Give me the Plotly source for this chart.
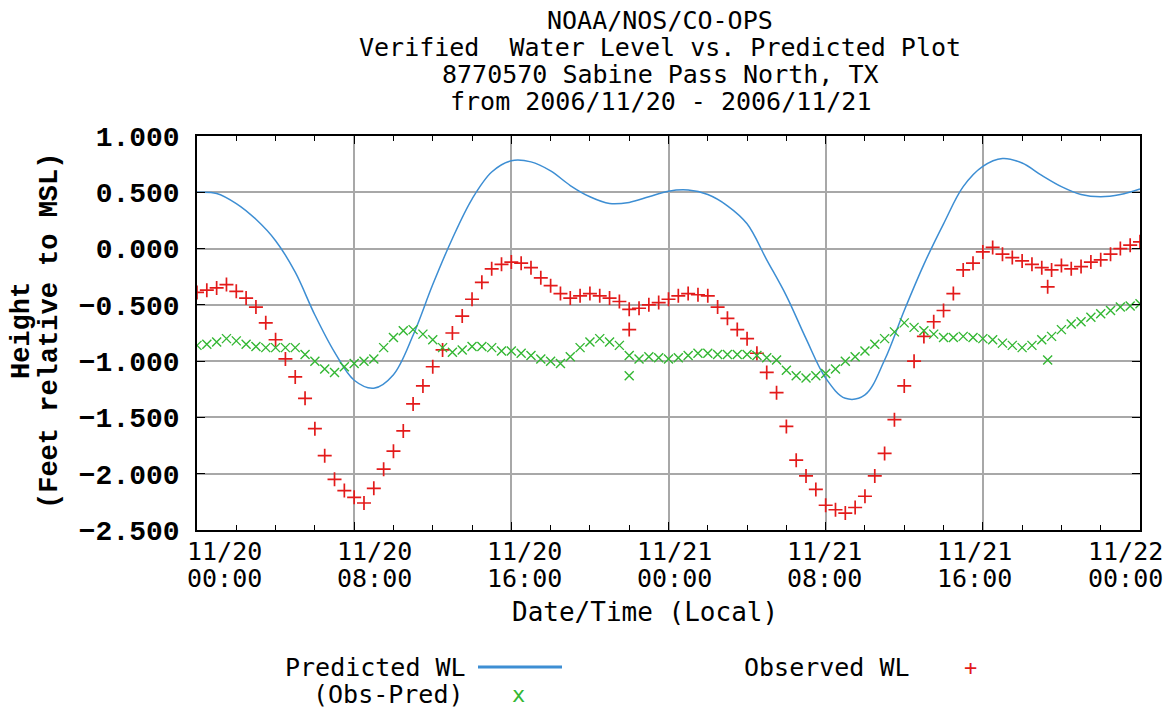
import numpy as np
import pandas as pd
import plotly.graph_objects as go

# ---------------- data ----------------
start = pd.Timestamp("2006-11-20 00:00")
end = pd.Timestamp("2006-11-22 00:00")

# Predicted water level, hourly (ft rel. MSL)
pred_vals = [0.50, 0.49, 0.40, 0.26, 0.07, -0.21, -0.59, -0.92, -1.17, -1.24,
             -1.12, -0.77, -0.32, 0.09, 0.44, 0.68, 0.78, 0.77, 0.69, 0.56,
             0.46, 0.40, 0.41, 0.46, 0.51, 0.52, 0.48, 0.38, 0.22, -0.10,
             -0.42, -0.80, -1.15, -1.33, -1.30, -0.99, -0.55, -0.14, 0.22, 0.55,
             0.73, 0.80, 0.76, 0.65, 0.55, 0.48, 0.46, 0.48, 0.53]
pred_times = pd.date_range(start, periods=len(pred_vals), freq="60min")

# Observed water level, every 30 minutes
obs_vals = [-0.39, -0.37, -0.35, -0.32, -0.38, -0.44, -0.52, -0.66, -0.81, -0.98,
            -1.14, -1.33, -1.60, -1.84, -2.05, -2.15, -2.21, -2.26, -2.13, -1.96,
            -1.80, -1.62, -1.38, -1.22, -1.05, -0.90, -0.75, -0.60, -0.45, -0.30,
            -0.18, -0.14, -0.12, -0.13, -0.17, -0.26, -0.33, -0.40, -0.44, -0.42,
            -0.40, -0.42, -0.44, -0.47, -0.54, -0.53, -0.50, -0.48, -0.45, -0.42,
            -0.40, -0.41, -0.42, -0.52, -0.62, -0.72, -0.80, -0.93, -1.10, -1.28,
            -1.58, -1.88, -2.02, -2.14, -2.28, -2.32, -2.35, -2.30, -2.20, -2.02,
            -1.82, -1.52, -1.22, -1.00, -0.78, -0.65, -0.55, -0.40, -0.19, -0.13,
            -0.03, 0.01, -0.05, -0.08, -0.11, -0.14, -0.17, -0.19, -0.15, -0.18,
            -0.16, -0.12, -0.10, -0.05, 0.00, 0.03, 0.06]
obs_times = pd.date_range(start, periods=len(obs_vals), freq="30min")

# Observed minus predicted, every 30 minutes
diff_vals = [-0.86, -0.85, -0.83, -0.80, -0.82, -0.85, -0.87, -0.88, -0.88, -0.88,
             -0.88, -0.94, -1.00, -1.07, -1.10, -1.05, -1.02, -1.00, -0.98, -0.88,
             -0.79, -0.73, -0.72, -0.76, -0.81, -0.88, -0.92, -0.90, -0.87, -0.87,
             -0.88, -0.91, -0.91, -0.93, -0.95, -0.98, -1.00, -1.02, -0.96, -0.88,
             -0.83, -0.80, -0.83, -0.86, -0.95, -0.98, -0.96, -0.97, -0.98, -0.97,
             -0.95, -0.93, -0.93, -0.94, -0.94, -0.94, -0.94, -0.95, -0.97, -0.99,
             -1.08, -1.13, -1.15, -1.13, -1.11, -1.07, -1.00, -0.96, -0.91, -0.85,
             -0.80, -0.74, -0.66, -0.70, -0.73, -0.76, -0.79, -0.79, -0.78, -0.79,
             -0.80, -0.81, -0.84, -0.86, -0.88, -0.86, -0.81, -0.78, -0.72, -0.67,
             -0.65, -0.61, -0.58, -0.55, -0.52, -0.51, -0.49]
diff_times = pd.date_range(start, periods=len(diff_vals), freq="30min")

# isolated spikes
spike_times = [pd.Timestamp("2006-11-20 22:00"), pd.Timestamp("2006-11-21 19:18")]
spike_obs = [-0.72, -0.34]
spike_diff = [-1.13, -0.99]

tick_times = pd.date_range(start, end, freq="8h")
tick_dates = [t.strftime("%m/%d") for t in tick_times]
tick_hours = [t.strftime("%H:%M") for t in tick_times]

title_lines = ["NOAA/NOS/CO-OPS",
               "Verified\u00a0 Water Level vs. Predicted Plot",
               "8770570 Sabine Pass North, TX",
               "from 2006/11/20 - 2006/11/21"]

# ---------------- styling ----------------
BLUE = "#3d8ed3"
RED = "#e31a1a"
GREEN = "#33b733"
GRID = "#a8a8a8"
PIX = "DejaVu Sans Mono"
MONO = "Liberation Mono"

W, H = 1169, 708
L, R, T, B = 197, 29, 136, 178
PW, PH = W - L - R, H - T - B


def px(x):
    return (x - L) / PW


def py(y):
    return (H - B - y) / PH


fig = go.Figure()
fig.add_trace(go.Scatter(x=pred_times, y=pred_vals, mode="lines",
                         line=dict(color=BLUE, width=1.5, shape="spline"),
                         name="Predicted WL"))
fig.add_trace(go.Scatter(x=list(obs_times) + spike_times,
                         y=obs_vals + spike_obs, mode="markers",
                         marker=dict(symbol="cross-thin", size=10,
                                     line=dict(color=RED, width=1.7)),
                         name="Observed WL"))
fig.add_trace(go.Scatter(x=list(diff_times) + spike_times,
                         y=diff_vals + spike_diff, mode="markers",
                         marker=dict(symbol="x-thin", size=9,
                                     line=dict(color=GREEN, width=1.4)),
                         name="(Obs-Pred)"))

ann = []
# title
for i, line in enumerate(title_lines):
    ann.append(dict(text=line, xref="paper", yref="paper", x=px(660), y=py(20 + i * 27.3),
                    xanchor="center", yanchor="middle", showarrow=False,
                    font=dict(family=PIX, size=25, color="black")))
# x tick labels (two lines)
for i, t in enumerate(tick_times):
    shift = 27 - 7 * i
    ann.append(dict(text=tick_dates[i], x=t, xref="x", yref="paper", y=py(551),
                    xshift=shift, xanchor="center", yanchor="middle", showarrow=False,
                    font=dict(family=PIX, size=25, color="black")))
    ann.append(dict(text=tick_hours[i], x=t, xref="x", yref="paper", y=py(578),
                    xshift=shift, xanchor="center", yanchor="middle", showarrow=False,
                    font=dict(family=PIX, size=25, color="black")))
# x axis title
ann.append(dict(text="Date/Time (Local)", xref="paper", yref="paper", x=px(645), y=py(612),
                xanchor="center", yanchor="middle", showarrow=False,
                font=dict(family=PIX, size=26, color="black")))
# y axis title
ann.append(dict(text="<b>Height</b>", xref="paper", yref="paper", x=px(22), y=py(331),
                xanchor="center", yanchor="middle", textangle=-90, showarrow=False,
                font=dict(family=MONO, size=27, color="black")))
ann.append(dict(text="<b>(Feet relative to MSL)</b>", xref="paper", yref="paper", x=px(50), y=py(331),
                xanchor="center", yanchor="middle", textangle=-90, showarrow=False,
                font=dict(family=MONO, size=27, color="black")))
# legend
ann.append(dict(text="Predicted WL", xref="paper", yref="paper", x=px(468), y=py(667),
                xanchor="right", yanchor="middle", showarrow=False,
                font=dict(family=PIX, size=25, color="black")))
ann.append(dict(text="(Obs-Pred)", xref="paper", yref="paper", x=px(466), y=py(694),
                xanchor="right", yanchor="middle", showarrow=False,
                font=dict(family=PIX, size=25, color="black")))
ann.append(dict(text="Observed WL", xref="paper", yref="paper", x=px(912), y=py(667),
                xanchor="right", yanchor="middle", showarrow=False,
                font=dict(family=PIX, size=25, color="black")))
ann.append(dict(text="+", xref="paper", yref="paper", x=px(970), y=py(667),
                xanchor="center", yanchor="middle", showarrow=False,
                font=dict(family=PIX, size=22, color=RED)))
ann.append(dict(text="x", xref="paper", yref="paper", x=px(518), y=py(694),
                xanchor="center", yanchor="middle", showarrow=False,
                font=dict(family=PIX, size=22, color=GREEN)))

shapes = [dict(type="line", xref="paper", yref="paper", x0=px(478), x1=px(562),
               y0=py(667), y1=py(667), line=dict(color=BLUE, width=3))]

fig.update_layout(
    width=W, height=H,
    margin=dict(l=L, r=R, t=T, b=B, pad=0),
    paper_bgcolor="white", plot_bgcolor="white",
    showlegend=False,
    annotations=ann, shapes=shapes,
    xaxis=dict(type="date", range=[start, end],
               tickvals=list(tick_times), showticklabels=False,
               showgrid=True, gridcolor=GRID, gridwidth=1.5,
               ticks="inside", ticklen=8, tickcolor="black", tickwidth=1.2,
               showline=True, linecolor="black", linewidth=1.5, mirror="allticks",
               minor=dict(dtick=2 * 3600 * 1000, ticks="inside", ticklen=5,
                          tickcolor="black", tickwidth=1.2, showgrid=False),
               zeroline=False),
    yaxis=dict(range=[-2.5, 1.0], tick0=-2.5, dtick=0.5, tickformat=".3f",
               showgrid=True, gridcolor=GRID, gridwidth=1.5,
               ticks="inside", ticklen=8, tickcolor="black", tickwidth=1.2,
               showline=True, linecolor="black", linewidth=1.5, mirror="allticks",
               tickfont=dict(family=MONO, size=28, color="black", weight="bold"),
               ticklabelstandoff=10, zeroline=False),
)

fig.write_html("out.html", config={"displayModeBar": False},
               post_script="document.body.style.margin='0';")
